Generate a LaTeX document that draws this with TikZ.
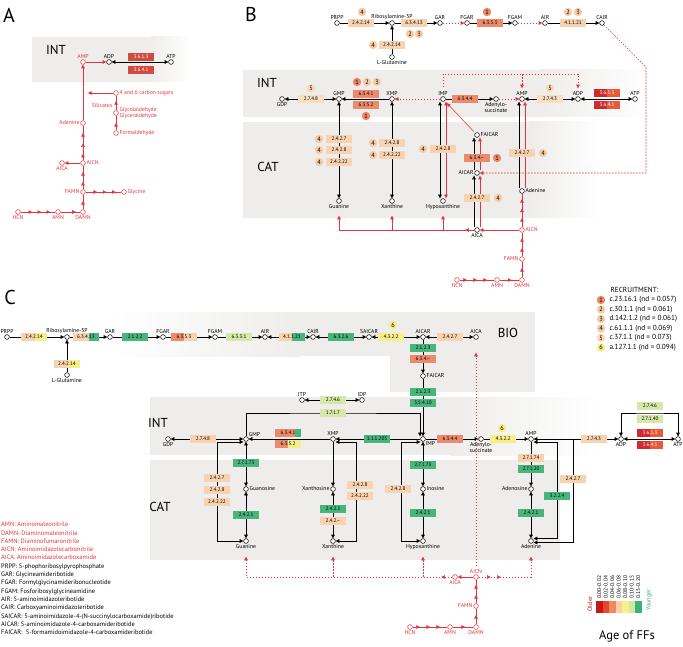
\documentclass[tikz,border=0pt]{standalone}
\usepackage{fontspec}
\setmainfont{PT Sans}
\usepackage{tikz}
\usetikzlibrary{arrows.meta,decorations.markings,positioning,calc}

\definecolor{cPeach}{HTML}{F9D3B0}
\definecolor{cLPeach}{HTML}{FBDDC2}
\definecolor{cSalmon}{HTML}{EE8A6C}
\definecolor{cRed}{HTML}{CE2B2E}
\definecolor{cROrange}{HTML}{E9593A}
\definecolor{cYellow}{HTML}{F6EE86}
\definecolor{cLGreen}{HTML}{D5E8A8}
\definecolor{cGreen}{HTML}{48B57C}
\definecolor{cPre}{HTML}{E2363C}
\definecolor{cBg}{HTML}{EEEDEB}
\definecolor{cA}{HTML}{CF4C3E}
\definecolor{cB1}{HTML}{EE8466}
\definecolor{cB2}{HTML}{F6CBA3}
\definecolor{cB5}{HTML}{F8D8B8}
\definecolor{cB6}{HTML}{F6EE80}
\definecolor{cAge1}{HTML}{C8161D}
\definecolor{cAge2}{HTML}{E8462F}
\definecolor{cAge3}{HTML}{F08A5E}
\definecolor{cAge4}{HTML}{F9CFA6}
\definecolor{cAge5}{HTML}{F7F08C}
\definecolor{cAge6}{HTML}{D3E7A3}
\definecolor{cAge7}{HTML}{3FB27A}

\newcommand{\mfont}{\fontsize{5.7}{6.2}\selectfont}
\newcommand{\efont}{\fontsize{5.2}{5.5}\selectfont}
\newcommand{\gfont}{\fontsize{7.3}{8}\selectfont}

\tikzset{
  met/.style={circle,draw,line width=0.55pt,inner sep=0pt,minimum size=4.8pt,fill=white},
  pmet/.style={met,draw=cPre},
  every label/.style={font=\mfont,inner sep=0.7pt},
  plbl/.style={font=\mfont,text=cPre,inner sep=0.7pt},
  ec/.style={fill=cPeach,inner sep=0pt,minimum width=25.5pt,minimum height=8.8pt,font=\efont},
  split/.style 2 args={path picture={\fill[#2] ($(path picture bounding box.south west)!#1!(path picture bounding box.south east)$) rectangle (path picture bounding box.north east);}},
  badge/.style={circle,fill=#1,inner sep=0pt,minimum size=8.4pt,font=\fontsize{6.3}{6.3}\selectfont},
  region/.style={font=\fontsize{13}{13}\selectfont},
  panel/.style={font=\fontsize{20}{20}\selectfont},
  ln/.style={line width=0.55pt},
  arr/.style={ln,->},
  darr/.style={ln,<->},
  rln/.style={ln,color=cPre},
  rarr/.style={rln,->},
  rdash/.style={rln,->,dash pattern=on 1.6pt off 1.4pt},
  heads/.style={postaction={decorate},decoration={markings,mark=between positions #1 with {\arrow{>}}}},
}

\begin{document}
\begin{tikzpicture}[x=1pt,y=-1pt,>={Triangle[length=3.6pt,width=3.6pt]}]
\useasboundingbox (0,0) rectangle (683,647);

% grey compartments
\fill[cBg] (32,37) rectangle (150,82);
\shade[left color=cBg,right color=white] (150,37) rectangle (190,82);
\fill[cBg] (243,70) rectangle (540,117);
\shade[left color=cBg,right color=white] (540,70) rectangle (650,117);
\fill[cBg] (243,122) rectangle (530,218);
\shade[left color=cBg,right color=white] (530,122) rectangle (600,218);
\shade[left color=white,right color=cBg] (110,312) rectangle (300,356);
\fill[cBg] (300,312) rectangle (535,356);
\fill[cBg] (390,356) rectangle (535,392);
\fill[cBg] (150,397) rectangle (450,455);
\shade[left color=cBg,right color=white] (450,397) rectangle (600,455);
\fill[cBg] (150,460) rectangle (560,560);

\node[panel] (labA) at (9,15) {A};
\node[panel] (labB) at (251,15) {B};
\node[panel] (labC) at (10,298) {C};
\node[region] (intA) at (56,50) {INT};
\node[region] (intB) at (267,83) {INT};
\node[region] (catB) at (268,167) {CAT};
\node[region] (bioC) at (508,333) {BIO};
\node[region] (intC) at (158,423) {INT};
\node[region] (catC) at (160,507) {CAT};

% ---- A
\node[pmet,label={[cPre]above:AMP}] (ampA) at (83,62) {};
\node[met,label={above:ADP}] (adpA) at (109,62) {};
\node[met,label={above:ATP}] (atpA) at (171,62) {};
\node[pmet,label={[cPre]right:4 and 6 carbon sugars}] (sugA) at (116,93) {};
\node[pmet,label={[cPre,align=left]right:Glycolaldehyde\\Glyceraldehyde}] (glyA) at (116,113) {};
\node[pmet,label={[cPre]right:Formaldehyde}] (formA) at (116,133) {};
\node[pmet,label={[cPre]left:Adenine}] (adeA) at (83,123) {};
\node[pmet,label={[cPre]right:AICN}] (aicnA) at (83,163) {};
\node[pmet,label={[cPre]below:AICA}] (aicaA) at (62,163) {};
\node[pmet,label={[cPre]left:FAMN}] (famnA) at (83,192) {};
\node[pmet,label={[cPre]right:Glycine}] (glycA) at (124,192) {};
\node[pmet,label={[cPre]below:HCN}] (hcnA) at (18,212) {};
\node[pmet,label={[cPre]below:AMN}] (amnA) at (58,212) {};
\node[pmet,label={[cPre]below:DAMN}] (damnA) at (83,212) {};
\node[plbl] (silA) at (102,106) {Silicates};
\coordinate (sugEnd) at (88,93);

\draw[rarr] (ampA) -- (adpA);
\draw[darr] (adpA) -- (atpA);
\draw[rarr] (adeA) -- (ampA);
\draw[rarr] (sugA) -- (sugEnd);
\draw[rln,heads=0.5 and 0.6 step 1] (formA) -- (glyA);
\draw[rln,heads=0.63 and 0.7 step 1] (glyA) -- (sugA);
\draw[rln,heads=0.19 and 0.85 step 0.3] (aicnA) -- (adeA);
\draw[rarr] (aicnA) -- (aicaA);
\draw[rln,heads=0.32 and 0.8 step 0.41] (famnA) -- (aicnA);
\draw[rln,heads=0.32 and 0.9 step 0.26] (famnA) -- (glycA);
\draw[rln,heads=0.33 and 0.9 step 0.26] (hcnA) -- (amnA);
\draw[rln,heads=0.77 and 0.8 step 1] (amnA) -- (damnA);
\draw[rln,heads=0.57 and 0.6 step 1] (damnA) -- (famnA);
\node[ec,fill=cA,text=white] (aE3613) at (141,57) {3.6.1.3};
\node[ec,fill=cA,text=white] (aE3641) at (141,70) {3.6.4.1};

% ---- B
\node[met,label={above:PRPP}] (prppB) at (337,23) {};
\node[met,label={above:Ribosylamine-5P}] (riboB) at (392,23) {};
\node[met,label={above:GAR}] (garB) at (440,23) {};
\node[met,label={above:FGAR}] (fgarB) at (467,23) {};
\node[met,label={above:FGAM}] (fgamB) at (515,23) {};
\node[met,label={above:AIR}] (airB) at (545,23) {};
\node[met,label={above:CAIR}] (cairB) at (602,23) {};
\node[met,label={below:L-Glutamine}] (glnB) at (392,57) {};
\node[met,label={below:GDP}] (gdpB) at (282,99) {};
\node[met,label={above:GMP}] (gmpB) at (339,99) {};
\node[met,label={above:XMP}] (xmpB) at (392,99) {};
\node[met,label={above:IMP}] (impB) at (443,99) {};
\node[met,label={[align=center]below:Adenylo-\\succinate}] (adsB) at (496,99) {};
\node[met,label={above:AMP}] (ampB) at (522,99) {};
\node[met,label={above:ADP}] (adpB) at (578,99) {};
\node[met,label={above:ATP}] (atpB) at (635,99) {};
\node[met,label={below:Guanine}] (guaB) at (339,201) {};
\node[met,label={below:Xanthine}] (xanB) at (392,201) {};
\node[met,label={below:Hypoxanthine}] (hypB) at (443,201) {};
\node[met,label={right:FAICAR}] (faicarB) at (477,135) {};
\node[met,label={left:AICAR}] (aicarB) at (477,173) {};
\node[met,label={below:AICA}] (aicaB) at (477,230) {};
\node[met,label={right:Adenine}] (adeB) at (522,191) {};
\node[pmet,label={[cPre]right:AICN}] (aicnB) at (522,230) {};
\node[pmet,label={[cPre]left:FAMN}] (famnB) at (522,259) {};
\node[pmet,label={[cPre]below:HCN}] (hcnB) at (457,280) {};
\node[pmet,label={[cPre]below:AMN}] (amnB) at (497,280) {};
\node[pmet,label={[cPre]below:DAMN}] (damnB) at (522,280) {};
\coordinate (bTop) at (578,74);
\coordinate (bBend1) at (646,67);
\coordinate (bBend2) at (646,173);

\draw[arr] (prppB) -- (riboB);
\draw[arr] (riboB) -- (garB);
\draw[rdash] (garB) -- (fgarB);
\draw[arr] (fgarB) -- (fgamB);
\draw[rdash] (fgamB) -- (airB);
\draw[arr] (airB) -- (cairB);
\draw[arr] (glnB) -- (riboB);
\draw[darr] (gmpB) -- (gdpB);
\draw[arr] (xmpB) -- (gmpB);
\draw[rdash] (impB) -- (xmpB);
\draw[arr] (impB) -- (adsB);
\draw[rdash] (adsB) -- (ampB);
\draw[darr] (ampB) -- (adpB);
\draw[darr] (adpB) -- (atpB);
\draw[rdash,shorten <=9pt,shorten >=8pt] (impB) |- (bTop) -- (adpB);
\draw[rdash,shorten >=8pt] (ampB |- bTop) -- (ampB);
\draw[rdash] (cairB) -- (bBend1) -- (bBend2) -- (aicarB);
\draw[darr] (gmpB) -- (guaB);
\draw[darr] (xmpB) -- (xanB);
\draw[darr] ([xshift=-3pt]impB.south) -- ([xshift=-3pt]hypB.north);
\draw[rarr,<->] ([xshift=3pt]impB.south) -- ([xshift=3pt]hypB.north);
\draw[rarr,shorten >=3pt,shorten <=2pt] (faicarB) -- (impB);
\draw[arr] ([xshift=-3pt]aicarB.north) -- ([xshift=-3pt]faicarB.south);
\draw[rarr] ([xshift=3pt]aicarB.north) -- ([xshift=3pt]faicarB.south);
\draw[arr] ([xshift=-3pt]aicaB.north) -- ([xshift=-3pt]aicarB.south);
\draw[rarr] ([xshift=3pt]aicaB.north) -- ([xshift=3pt]aicarB.south);
\draw[rarr] (aicnB) -- (aicaB);
\draw[rarr,shorten >=12pt,heads=9pt and 10pt step 5pt] (aicaB) -| (guaB);
\draw[rarr,shorten >=12pt] (xanB |- aicaB) -- (xanB);
\draw[rarr,shorten >=12pt] (hypB |- aicaB) -- (hypB);
\draw[arr] ([xshift=-3pt]adeB.north) -- ([xshift=-3pt]ampB.south);
\draw[rarr] ([xshift=3pt]adeB.north) -- ([xshift=3pt]ampB.south);
\draw[rln,heads=0.28 and 0.9 step 0.28] (aicnB) -- (adeB);
\draw[rln,heads=0.35 and 0.8 step 0.42] (famnB) -- (aicnB);
\draw[rln,heads=0.6 and 0.7 step 1] (damnB) -- (famnB);
\draw[rln,heads=0.21 and 0.85 step 0.29] (hcnB) -- (amnB);
\draw[rln,heads=0.6 and 0.7 step 1] (amnB) -- (damnB);

\node[ec] (bE24214) at (361,23) {2.4.2.14};
\node[ec] (bE63413) at (414,23) {6.3.4.13};
\node[ec,fill=cSalmon] (bE6353) at (490,23) {6.3.5.3};
\node[ec] (bE41121) at (573,23) {4.1.1.21};
\node[ec] (bE24214g) at (392,45) {2.4.2.14};
\node[ec,fill=cLPeach] (bE2748) at (311,99) {2.7.4.8};
\node[ec,fill=cSalmon] (bE6341) at (366,94) {6.3.4.1};
\node[ec,fill=cSalmon] (bE6352) at (366,105) {6.3.5.2};
\node[ec,fill=cSalmon] (bE6344) at (465,99) {6.3.4.4};
\node[ec,fill=cLPeach] (bE2743) at (550,99) {2.7.4.3};
\node[ec,fill=cRed,split={0.5}{cROrange},text=white] (bE3613) at (607,93) {3.6.1.3};
\node[ec,fill=cRed,split={0.5}{cROrange},text=white] (bE3641) at (607,105) {3.6.4.1};
\node[ec] (bE24227g) at (339,139) {2.4.2.7};
\node[ec] (bE24228g) at (339,150) {2.4.2.8};
\node[ec] (bE24222g) at (339,162) {2.4.2.22};
\node[ec] (bE24228x) at (392,143) {2.4.2.8};
\node[ec] (bE24222x) at (392,155) {2.4.2.22};
\node[ec] (bE24228h) at (443,149) {2.4.2.8};
\node[ec,fill=cSalmon] (bE634x) at (477,158) {6.3.4.--};
\node[ec] (bE24227a) at (477,198) {2.4.2.7};
\node[ec] (bE24227d) at (522,153) {2.4.2.7};

\node[badge=cB2] (bB4a) at (362,12) {4};
\node[badge=cB2] (bB2a) at (410,34) {2};
\node[badge=cB2] (bB3a) at (419,34) {3};
\node[badge=cB1] (bB1a) at (487,12) {1};
\node[badge=cB2] (bB2b) at (568,12) {2};
\node[badge=cB2] (bB3b) at (578,12) {3};
\node[badge=cB2] (bB4b) at (373,45) {4};
\node[badge=cB5] (bB5a) at (311,88) {5};
\node[badge=cB1] (bB1b) at (357,82) {1};
\node[badge=cB2] (bB2c) at (367,82) {2};
\node[badge=cB2] (bB3c) at (377,82) {3};
\node[badge=cB1] (bB1c) at (366,116) {1};
\node[badge=cB5] (bB5b) at (550,88) {5};
\node[badge=cB2] (bB4c) at (319,139) {4};
\node[badge=cB2] (bB4d) at (319,150) {4};
\node[badge=cB2] (bB4e) at (319,162) {4};
\node[badge=cB2] (bB4f) at (373,143) {4};
\node[badge=cB2] (bB4g) at (373,155) {4};
\node[badge=cB2] (bB4h) at (423,149) {4};
\node[badge=cB1] (bB1d) at (497,158) {1};
\node[badge=cB2] (bB4i) at (498,198) {4};
\node[badge=cB2] (bB4j) at (543,153) {4};

% recruitment key
\node[anchor=west,font=\gfont] (recH) at (607,290) {RECRUITMENT:};
\node[badge=cB1] (rec1b) at (601,300) {1};
\node[anchor=west,font=\gfont] (rec1) at (606,300) {c.23.16.1 (nd = 0.057)};
\node[badge=cB2] (rec2b) at (601,309.5) {2};
\node[anchor=west,font=\gfont] (rec2) at (606,309.5) {c.30.1.1 (nd = 0.061)};
\node[badge=cB2] (rec3b) at (601,319) {3};
\node[anchor=west,font=\gfont] (rec3) at (606,319) {d.142.1.2 (nd = 0.061)};
\node[badge=cB2] (rec4b) at (601,328.5) {4};
\node[anchor=west,font=\gfont] (rec4) at (606,328.5) {c.61.1.1 (nd = 0.069)};
\node[badge=cB5] (rec5b) at (601,338) {5};
\node[anchor=west,font=\gfont] (rec5) at (606,338) {c.37.1.1 (nd = 0.073)};
\node[badge=cB6] (rec6b) at (601,347.5) {6};
\node[anchor=west,font=\gfont] (rec6) at (606,347.5) {a.127.1.1 (nd = 0.094)};

% ---- C
\node[met,label={above:PRPP}] (prppC) at (7,337) {};
\node[met,label={above:Ribosylamine-5P}] (riboC) at (67,337) {};
\node[met,label={above:GAR}] (garC) at (110,337) {};
\node[met,label={above:FGAR}] (fgarC) at (163,337) {};
\node[met,label={above:FGAM}] (fgamC) at (215,337) {};
\node[met,label={above:AIR}] (airC) at (265,337) {};
\node[met,label={above:CAIR}] (cairC) at (313,337) {};
\node[met,label={above:SAICAR}] (saicarC) at (369,337) {};
\node[met,label={above:AICAR}] (aicarC) at (423,337) {};
\node[met,label={above:AICA}] (aicaC) at (476,337) {};
\node[met,label={below:L-Glutamine}] (glnC) at (67,375) {};
\node[met,label={right:FAICAR}] (faicarC) at (423,376) {};
\node[met,label={above:ITP}] (itpC) at (302,400) {};
\node[met,label={above:IDP}] (idpC) at (362,400) {};
\node[met,label={below:GDP}] (gdpC) at (168,439) {};
\node[met,label={above right:GMP}] (gmpC) at (246,439) {};
\node[met,label={above:XMP}] (xmpC) at (333,439) {};
\node[met,label={below right:IMP}] (impC) at (423,439) {};
\node[met,label={[align=center]below:Adenylo-\\succinate}] (adsC) at (481,439) {};
\node[met,label={above:AMP}] (ampC) at (531,439) {};
\node[met,label={below:ADP}] (adpC) at (621,439) {};
\node[met,label={below:ATP}] (atpC) at (678,439) {};
\node[met,label={right:Guanosine}] (guoC) at (246,489) {};
\node[met,label={below:Guanine}] (guaC) at (246,541) {};
\node[met,label={left:Xanthosine}] (xaoC) at (333,489) {};
\node[met,label={below:Xanthine}] (xanC) at (333,541) {};
\node[met,label={right:Inosine}] (inoC) at (423,489) {};
\node[met,label={below:Hypoxanthine}] (hypC) at (423,541) {};
\node[met,label={left:Adenosine}] (adoC) at (531,489) {};
\node[met,label={below:Adenine}] (adeC) at (531,541) {};
\node[pmet,label={[cPre]above:AICN}] (aicnC) at (476,577) {};
\node[pmet,label={[cPre]below:AICA}] (aicaC2) at (455,577) {};
\node[pmet,label={[cPre]left:FAMN}] (famnC) at (476,606) {};
\node[pmet,label={[cPre]below:HCN}] (hcnC) at (410,627) {};
\node[pmet,label={[cPre]below:AMN}] (amnC) at (450,627) {};
\node[pmet,label={[cPre]below:DAMN}] (damnC) at (476,627) {};
\coordinate (cJ) at (573,439);
\coordinate (cBrk) at (650,413);

\draw[arr] (prppC) -- (riboC);
\draw[arr] (riboC) -- (garC);
\draw[arr] (garC) -- (fgarC);
\draw[arr] (fgarC) -- (fgamC);
\draw[arr] (fgamC) -- (airC);
\draw[darr] (airC) -- (cairC);
\draw[darr] (cairC) -- (saicarC);
\draw[darr] (saicarC) -- (aicarC);
\draw[darr] (aicarC) -- (aicaC);
\draw[arr] (glnC) -- (riboC);
\draw[arr] (aicarC) -- (faicarC);
\draw[arr] (faicarC) -- (impC);
\draw[darr] (itpC) -- (idpC);
\draw[darr] (gmpC) -- (gdpC);
\draw[arr] (xmpC) -- (gmpC);
\draw[arr] (impC) -- (xmpC);
\draw[arr] (impC) -- (adsC);
\draw[arr] (adsC) -- (ampC);
\draw[darr] (ampC) -- (adpC);
\draw[darr] (adpC) -- (atpC);
\draw[darr] (adpC) |- (cBrk) -| (atpC);
\draw[arr] (gmpC) |- (333,413) -| ([xshift=-3pt]impC.north);
\draw[darr] (gmpC) -- (guoC);
\draw[darr] (guoC) -- (guaC);
\draw[darr] ([yshift=-3pt]gmpC.west) -| ([xshift=-29pt]guaC.center) -- (guaC);
\draw[arr] (xmpC) -- (xaoC);
\draw[darr] (xaoC) -- (xanC);
\draw[darr] ([yshift=-3pt]xmpC.east) -| ([xshift=23pt]xanC.center) -- (xanC);
\draw[darr] (impC) -- (inoC);
\draw[darr] (inoC) -- (hypC);
\draw[darr] ([yshift=-3pt]impC.west) -| ([xshift=-22pt]hypC.center) -- (hypC);
\draw[arr] (ampC) -- (adoC);
\draw[darr] (adoC) -- (adeC);
\draw[darr] ([yshift=-3pt]ampC.east) -| ([xshift=26pt,yshift=2.5pt]adeC.center) -- ([yshift=2.5pt]adeC.east);
\draw[arr] (cJ) |- ([yshift=-1.5pt]adeC.east);
\draw[rdash,shorten <=8pt,shorten >=13pt] (aicnC) -- (aicaC);
\draw[rarr] (aicnC) -- (aicaC2);
\draw[rdash,shorten >=13pt,heads=11pt and 12pt step 5pt] (aicaC2) -| (guaC);
\draw[rdash,shorten >=13pt] (xanC |- aicaC2) -- (xanC);
\draw[rdash,shorten >=13pt] (hypC |- aicaC2) -- (hypC);
\draw[rdash,shorten >=13pt,heads=12pt and 23pt step 10pt] (aicnC) -| (adeC);
\draw[rln,heads=0.35 and 0.8 step 0.42] (famnC) -- (aicnC);
\draw[rln,heads=0.6 and 0.7 step 1] (damnC) -- (famnC);
\draw[rln,heads=0.21 and 0.85 step 0.29] (hcnC) -- (amnC);
\draw[rln,heads=0.6 and 0.7 step 1] (amnC) -- (damnC);

\node[ec,fill=cPeach,split={0.55}{cYellow}] (cE24214) at (34,337) {2.4.2.14};
\node[ec,fill=cPeach,split={0.6}{cGreen}] (cE63413) at (86,337) {6.3.4.13};
\node[ec,fill=cGreen] (cE2122) at (135,337) {2.1.2.2};
\node[ec,fill=cSalmon,split={0.5}{cPeach}] (cE6353) at (184,337) {6.3.5.3};
\node[ec,fill=cLGreen] (cE6331) at (239,337) {6.3.3.1};
\node[ec,fill=cPeach,split={0.5}{cGreen}] (cE41121) at (292,337) {4.1.1.21};
\node[ec,fill=cGreen] (cE6326) at (341,337) {6.3.2.6};
\node[ec,fill=cYellow] (cE4322a) at (391,337) {4.3.2.2};
\node[ec,fill=cPeach] (cE24227t) at (450,337) {2.4.2.7};
\node[ec,fill=cPeach,split={0.55}{cYellow}] (cE24214g) at (67,364) {2.4.2.14};
\node[ec,fill=cGreen] (cE2123a) at (423,348) {2.1.2.3};
\node[ec,fill=cSalmon] (cE634x) at (423,359) {6.3.4.--};
\node[ec,fill=cGreen] (cE2123b) at (423,392) {2.1.2.3};
\node[ec,fill=cGreen] (cE35410) at (423,403) {3.5.4.10};
\node[ec,fill=cLGreen] (cE2746a) at (333,400) {2.7.4.6};
\node[ec,fill=cLGreen] (cE1717) at (333,413) {1.7.1.7};
\node[ec,fill=cPeach] (cE2748) at (203,439) {2.7.4.8};
\node[ec,fill=cSalmon,split={0.78}{cGreen}] (cE6341) at (288,433) {6.3.4.1};
\node[ec,fill=cSalmon,split={0.5}{cYellow}] (cE6352) at (288,444) {6.3.5.2};
\node[ec,fill=cGreen] (cE111205) at (377,439) {1.1.1.205};
\node[ec,fill=cSalmon] (cE6344) at (450,439) {6.3.4.4};
\node[ec,fill=cYellow] (cE4322b) at (503,439) {4.3.2.2};
\node[ec,fill=cPeach] (cE2743) at (594,439) {2.7.4.3};
\node[ec,fill=cRed,split={0.5}{cROrange},text=white] (cE3613) at (650,433) {3.6.1.3};
\node[ec,fill=cRed,split={0.5}{cROrange},text=white] (cE3641) at (650,445) {3.6.4.1};
\node[ec,fill=cLGreen] (cE2746b) at (650,406) {2.7.4.6};
\node[ec,fill=cLGreen] (cE27140) at (650,419) {2.7.1.40};
\node[ec,fill=cGreen] (cE27173g) at (246,463) {2.7.1.73};
\node[ec,fill=cGreen] (cE2421g) at (246,515) {2.4.2.1};
\node[ec,fill=cPeach] (cE24227g) at (217,478) {2.4.2.7};
\node[ec,fill=cPeach] (cE24228g) at (217,490) {2.4.2.8};
\node[ec,fill=cPeach] (cE24222g) at (217,502) {2.4.2.22};
\node[ec,fill=cGreen] (cE2421x) at (333,509) {2.4.2.1};
\node[ec,fill=cPeach] (cE242xx) at (333,521) {2.4.2.--};
\node[ec,fill=cPeach] (cE24228x) at (360,485) {2.4.2.8};
\node[ec,fill=cPeach] (cE24222x) at (360,496) {2.4.2.22};
\node[ec,fill=cGreen] (cE27173h) at (423,465) {2.7.1.73};
\node[ec,fill=cGreen] (cE2421h) at (423,513) {2.4.2.1};
\node[ec,fill=cPeach] (cE24228h) at (398,489) {2.4.2.8};
\node[ec,fill=cPeach] (cE27174) at (531,458) {2.7.1.74};
\node[ec,fill=cGreen] (cE27120) at (531,469) {2.7.1.20};
\node[ec,fill=cGreen] (cE2421a) at (531,513) {2.4.2.1};
\node[ec,fill=cGreen] (cE3224) at (557,496) {3.2.2.4};
\node[ec,fill=cPeach] (cE24227a) at (573,479) {2.4.2.7};
\node[badge=cB6] (cB6a) at (393,325) {6};
\node[badge=cB6] (cB6b) at (502,428) {6};

% glossary
\node[anchor=north west,align=left,inner sep=0pt,font=\fontsize{6.4}{8.3}\selectfont] (gloss) at (1,522) {%
\textcolor{cPre}{AMN: Aminomaleonitrile}\\
\textcolor{cPre}{DAMN: Diaminomaleonitrile}\\
\textcolor{cPre}{FAMN: Diaminofumaronitrile}\\
\textcolor{cPre}{AICN: Aminoimidazolecarbonitrile}\\
\textcolor{cPre}{AICA: Aminoimidazolecarboxamide}\\
PRPP: 5-phophoribosylpyrophosphate\\
GAR: Glycineamideribotide\\
FGAR: Formylglycinamideribonucleotide\\
FGAM: Fosforibosylglycineamidine\\
AIR: 5-aminoimidazoleribotide\\
CAIR: Carboxyaminoimidazoleribotide\\
SAICAR: 5-aminoimidazole-4-(N-succinylocarboxamide)ribotide\\
AICAR: 5-aminoimidazole-4-carboxamideribotide\\
FAICAR:\ \ 5-formamidoimidazole-4-carboxamideribotide};

% age key
\foreach \c/\t [count=\i from 0] in {cAge1/0.00-0.02,cAge2/0.02-0.04,cAge3/0.04-0.06,cAge4/0.06-0.08,cAge5/0.08-0.10,cAge6/0.10-0.15,cAge7/0.15-0.20}{
  \fill[\c] (596+6.5*\i,601) rectangle ++(6.5,12);
  \node[rotate=90,anchor=west,inner sep=0.5pt,font=\fontsize{5.5}{6}\selectfont] (age\i) at (599.25+6.5*\i,599) {\t};
}
\node[rotate=90,text=cAge1,font=\fontsize{6.3}{6.3}\selectfont] (older) at (590,604) {Older};
\node[rotate=90,text=cAge7,font=\fontsize{6.3}{6.3}\selectfont] (younger) at (649,600) {Younger};
\node[font=\fontsize{12.5}{12.5}\selectfont] (ageLbl) at (627,636) {Age of FFs};
\end{tikzpicture}
\end{document}
